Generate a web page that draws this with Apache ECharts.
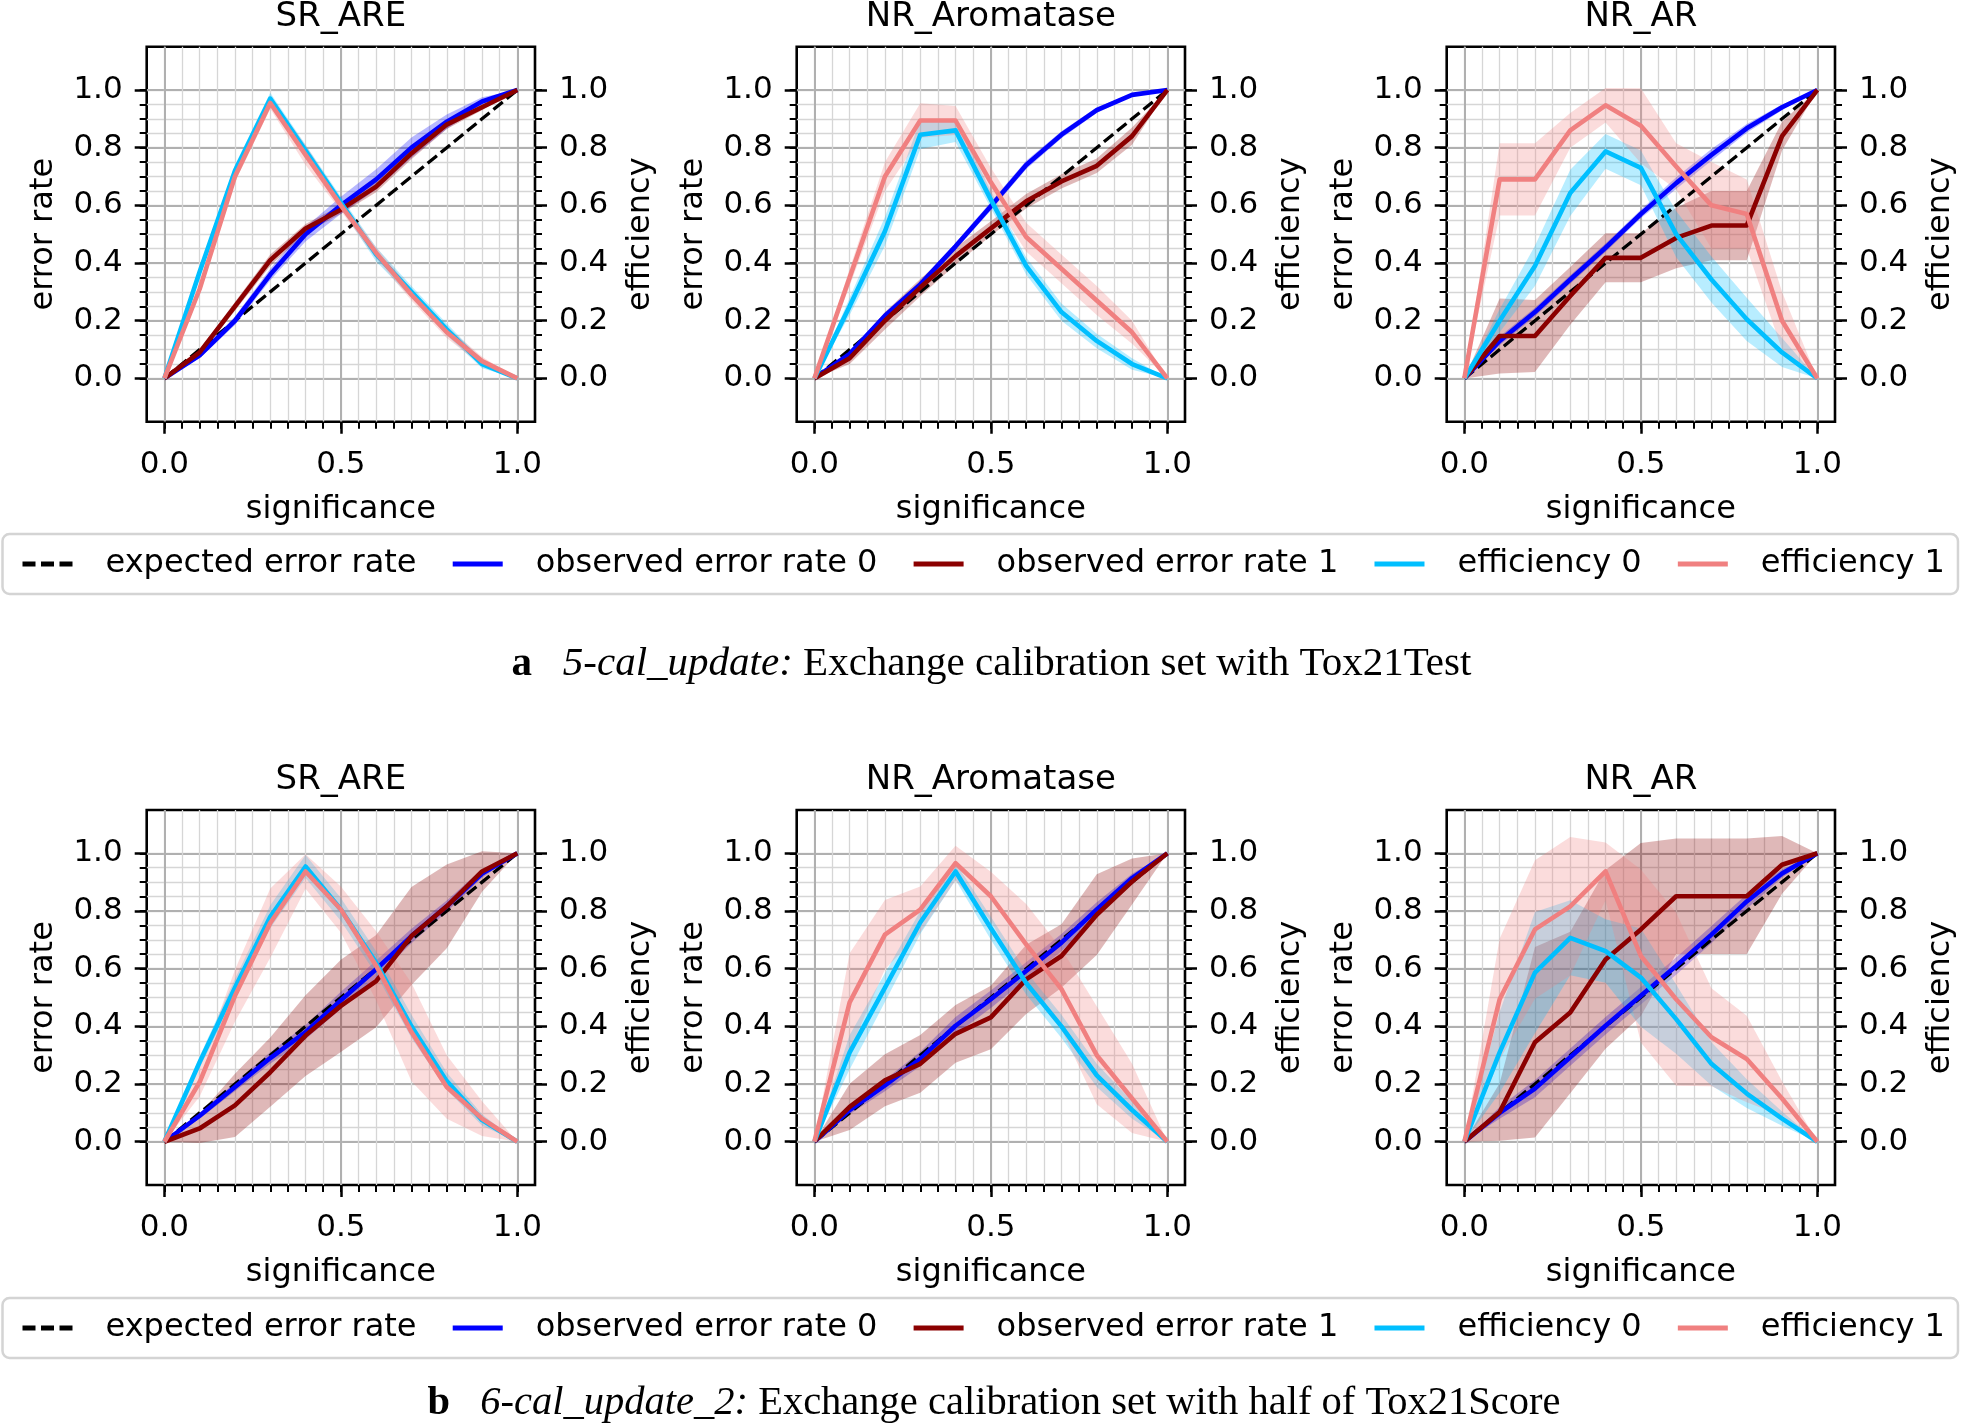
<!DOCTYPE html>
<html><head><meta charset="utf-8">
<script src="https://cdn.jsdelivr.net/npm/echarts@6/dist/echarts.min.js"></script>
<style>html,body{margin:0;padding:0;background:#fff}#c{width:1961px;height:1428px}</style>
</head><body><div id="c"></div>
<script>
// ---------- data ----------
const significance = [0, 0.1, 0.2, 0.3, 0.4, 0.5, 0.6, 0.7, 0.8, 0.9, 1.0];
const expectedErrorRate = [0, 0.1, 0.2, 0.3, 0.4, 0.5, 0.6, 0.7, 0.8, 0.9, 1.0];
const xMajorTicks = [0, 0.5, 1.0];
const yMajorTicks = [0, 0.2, 0.4, 0.6, 0.8, 1.0];
const minorTicks = [0, 0.05, 0.1, 0.15, 0.2, 0.25, 0.3, 0.35, 0.4, 0.45, 0.5, 0.55, 0.6, 0.65, 0.7, 0.75, 0.8, 0.85, 0.9, 0.95, 1.0];
const panelTitles = ['SR_ARE', 'NR_Aromatase', 'NR_AR'];
const legendNames = ['expected error rate', 'observed error rate 0', 'observed error rate 1', 'efficiency 0', 'efficiency 1'];
const captionA = '{b|a}   {i|5-cal_update:} Exchange calibration set with Tox21Test';
const captionB = '{b|b}   {i|6-cal_update_2:} Exchange calibration set with half of Tox21Score';

// (a) SR_ARE
const aSR_obs0   = [0, 0.08, 0.20, 0.36, 0.50, 0.60, 0.69, 0.80, 0.89, 0.96, 1.0];
const aSR_obs0Sd = [0, 0.01, 0.015, 0.02, 0.025, 0.03, 0.035, 0.035, 0.025, 0.015, 0];
const aSR_obs1   = [0, 0.09, 0.25, 0.41, 0.52, 0.585, 0.665, 0.78, 0.88, 0.94, 1.0];
const aSR_obs1Sd = [0, 0.01, 0.015, 0.02, 0.015, 0.015, 0.02, 0.02, 0.015, 0.01, 0];
const aSR_eff0   = [0, 0.37, 0.72, 0.97, 0.79, 0.61, 0.43, 0.30, 0.17, 0.05, 0];
const aSR_eff0Sd = [0, 0.015, 0.02, 0.02, 0.02, 0.02, 0.025, 0.02, 0.02, 0.015, 0];
const aSR_eff1   = [0, 0.31, 0.70, 0.955, 0.775, 0.60, 0.435, 0.29, 0.16, 0.06, 0];
const aSR_eff1Sd = [0, 0.02, 0.02, 0.02, 0.035, 0.02, 0.02, 0.02, 0.02, 0.015, 0];
// (a) NR_Aromatase
const aAro_obs0   = [0, 0.085, 0.217, 0.326, 0.458, 0.597, 0.74, 0.845, 0.93, 0.983, 1.0];
const aAro_obs0Sd = [0, 0.01, 0.01, 0.012, 0.012, 0.015, 0.015, 0.012, 0.01, 0.005, 0];
const aAro_obs1   = [0, 0.07, 0.2, 0.315, 0.424, 0.52, 0.614, 0.683, 0.737, 0.84, 1.0];
const aAro_obs1Sd = [0, 0.02, 0.03, 0.03, 0.03, 0.025, 0.025, 0.025, 0.025, 0.03, 0];
const aAro_eff0   = [0, 0.25, 0.51, 0.845, 0.86, 0.62, 0.39, 0.23, 0.13, 0.05, 0];
const aAro_eff0Sd = [0, 0.03, 0.05, 0.05, 0.04, 0.03, 0.03, 0.03, 0.025, 0.02, 0];
const aAro_eff1   = [0, 0.35, 0.70, 0.894, 0.894, 0.68, 0.49, 0.38, 0.27, 0.16, 0];
const aAro_eff1Sd = [0, 0.03, 0.05, 0.06, 0.05, 0.05, 0.05, 0.05, 0.05, 0.04, 0];
// (a) NR_AR
const aAR_obs0   = [0, 0.13, 0.23, 0.343, 0.453, 0.57, 0.677, 0.775, 0.867, 0.94, 1.0];
const aAR_obs0Sd = [0, 0.015, 0.015, 0.015, 0.015, 0.015, 0.02, 0.02, 0.015, 0.01, 0];
const aAR_obs1   = [0, 0.147, 0.147, 0.286, 0.418, 0.418, 0.487, 0.53, 0.53, 0.84, 1.0];
const aAR_obs1Sd = [0, 0.13, 0.125, 0.1, 0.085, 0.085, 0.105, 0.12, 0.12, 0.05, 0];
const aAR_eff0   = [0, 0.2, 0.39, 0.643, 0.787, 0.73, 0.5, 0.343, 0.205, 0.09, 0];
const aAR_eff0Sd = [0, 0.04, 0.07, 0.08, 0.06, 0.06, 0.08, 0.08, 0.075, 0.05, 0];
const aAR_eff1   = [0, 0.69, 0.69, 0.86, 0.947, 0.876, 0.735, 0.6, 0.57, 0.2, 0];
const aAR_eff1Sd = [0, 0.125, 0.125, 0.06, 0.06, 0.13, 0.08, 0.15, 0.12, 0.1, 0];
// (b) SR_ARE
const bSR_obs0   = [0, 0.09, 0.19, 0.29, 0.38, 0.49, 0.598, 0.713, 0.816, 0.93, 1.0];
const bSR_obs0Sd = [0, 0.01, 0.015, 0.02, 0.025, 0.03, 0.03, 0.025, 0.02, 0.015, 0];
const bSR_obs1   = [0, 0.046, 0.126, 0.241, 0.368, 0.471, 0.557, 0.713, 0.816, 0.937, 1.0];
const bSR_obs1Sd = [0, 0.05, 0.11, 0.12, 0.14, 0.16, 0.16, 0.17, 0.145, 0.07, 0];
const bSR_eff0   = [0, 0.276, 0.534, 0.78, 0.954, 0.805, 0.62, 0.4, 0.21, 0.075, 0];
const bSR_eff0Sd = [0, 0.02, 0.03, 0.04, 0.04, 0.04, 0.04, 0.04, 0.03, 0.02, 0];
const bSR_eff1   = [0, 0.207, 0.506, 0.758, 0.937, 0.805, 0.61, 0.38, 0.19, 0.08, 0];
const bSR_eff1Sd = [0, 0.05, 0.09, 0.12, 0.06, 0.08, 0.12, 0.17, 0.11, 0.06, 0];
// (b) NR_Aromatase
const bAro_obs0   = [0, 0.11, 0.195, 0.287, 0.402, 0.494, 0.592, 0.69, 0.805, 0.914, 1.0];
const bAro_obs0Sd = [0, 0.015, 0.02, 0.025, 0.03, 0.03, 0.03, 0.03, 0.025, 0.015, 0];
const bAro_obs1   = [0, 0.121, 0.213, 0.27, 0.374, 0.431, 0.563, 0.644, 0.787, 0.902, 1.0];
const bAro_obs1Sd = [0, 0.08, 0.09, 0.1, 0.1, 0.11, 0.12, 0.11, 0.14, 0.08, 0];
const bAro_eff0   = [0, 0.31, 0.534, 0.76, 0.937, 0.74, 0.55, 0.4, 0.23, 0.11, 0];
const bAro_eff0Sd = [0, 0.06, 0.05, 0.04, 0.03, 0.04, 0.04, 0.04, 0.04, 0.03, 0];
const bAro_eff1   = [0, 0.483, 0.718, 0.805, 0.966, 0.851, 0.684, 0.529, 0.3, 0.15, 0];
const bAro_eff1Sd = [0, 0.17, 0.12, 0.08, 0.06, 0.085, 0.14, 0.14, 0.17, 0.12, 0];
// (b) NR_AR
const bAR_obs0   = [0, 0.1, 0.184, 0.293, 0.402, 0.506, 0.609, 0.718, 0.833, 0.93, 1.0];
const bAR_obs0Sd = [0, 0.02, 0.03, 0.03, 0.03, 0.03, 0.03, 0.03, 0.025, 0.015, 0];
const bAR_obs1   = [0, 0.103, 0.345, 0.448, 0.632, 0.736, 0.851, 0.851, 0.851, 0.96, 1.0];
const bAR_obs1Sd = [0, 0.1, 0.33, 0.28, 0.31, 0.3, 0.2, 0.2, 0.2, 0.1, 0];
const bAR_eff0   = [0, 0.31, 0.586, 0.707, 0.661, 0.569, 0.425, 0.27, 0.167, 0.08, 0];
const bAR_eff0Sd = [0, 0.14, 0.21, 0.13, 0.11, 0.17, 0.12, 0.075, 0.05, 0.025, 0];
const bAR_eff1   = [0, 0.494, 0.736, 0.816, 0.937, 0.644, 0.494, 0.362, 0.287, 0.15, 0];
const bAR_eff1Sd = [0, 0.21, 0.24, 0.24, 0.1, 0.3, 0.3, 0.17, 0.15, 0.06, 0];

// ---------- layout / style ----------
const colLeft = [146.7, 796.7, 1446.7];
const rowTop = [46.7, 810];
const plotW = 388.3, plotH = 375;
const X_MIN = -0.05, X_MAX = 1.05, Y_MIN = -0.15, Y_MAX = 1.15;
const COLORS = {expected: '#000000', obs0: '#0000ff', obs1: '#8b0000', eff0: '#00bfff', eff1: '#f08080'};
const BANDS = {obs0: 'rgba(0,0,255,0.28)', obs1: 'rgba(139,0,0,0.28)', eff0: 'rgba(0,191,255,0.28)', eff1: 'rgba(240,128,128,0.28)'};
const MAJOR_GRID = '#b0b0b0', MINOR_GRID = '#d6d6d6';
const FONT = 'DejaVu Sans';

const panels = [
  {row: 0, col: 0, obs0: aSR_obs0, obs0Sd: aSR_obs0Sd, obs1: aSR_obs1, obs1Sd: aSR_obs1Sd, eff0: aSR_eff0, eff0Sd: aSR_eff0Sd, eff1: aSR_eff1, eff1Sd: aSR_eff1Sd},
  {row: 0, col: 1, obs0: aAro_obs0, obs0Sd: aAro_obs0Sd, obs1: aAro_obs1, obs1Sd: aAro_obs1Sd, eff0: aAro_eff0, eff0Sd: aAro_eff0Sd, eff1: aAro_eff1, eff1Sd: aAro_eff1Sd},
  {row: 0, col: 2, obs0: aAR_obs0, obs0Sd: aAR_obs0Sd, obs1: aAR_obs1, obs1Sd: aAR_obs1Sd, eff0: aAR_eff0, eff0Sd: aAR_eff0Sd, eff1: aAR_eff1, eff1Sd: aAR_eff1Sd},
  {row: 1, col: 0, obs0: bSR_obs0, obs0Sd: bSR_obs0Sd, obs1: bSR_obs1, obs1Sd: bSR_obs1Sd, eff0: bSR_eff0, eff0Sd: bSR_eff0Sd, eff1: bSR_eff1, eff1Sd: bSR_eff1Sd},
  {row: 1, col: 1, obs0: bAro_obs0, obs0Sd: bAro_obs0Sd, obs1: bAro_obs1, obs1Sd: bAro_obs1Sd, eff0: bAro_eff0, eff0Sd: bAro_eff0Sd, eff1: bAro_eff1, eff1Sd: bAro_eff1Sd},
  {row: 1, col: 2, obs0: bAR_obs0, obs0Sd: bAR_obs0Sd, obs1: bAR_obs1, obs1Sd: bAR_obs1Sd, eff0: bAR_eff0, eff0Sd: bAR_eff0Sd, eff1: bAR_eff1, eff1Sd: bAR_eff1Sd}
];

const fmt = v => Number(v).toFixed(1);
const grids = [], xAxes = [], yAxes = [], series = [], graphics = [];

panels.forEach((p, i) => {
  grids.push({left: colLeft[p.col], top: rowTop[p.row], width: plotW, height: plotH,
    show: true, borderColor: '#000', borderWidth: 2.6, backgroundColor: 'rgba(0,0,0,0)'});
  const xb = {gridIndex: i, type: 'value', min: X_MIN, max: X_MAX, position: 'bottom', axisLine: {show: false, onZero: false}};
  xAxes.push(Object.assign({}, xb, {
    axisTick: {show: true, customValues: minorTicks, length: 7, lineStyle: {color: '#000', width: 2}},
    axisLabel: {show: false}, splitLine: {show: true, lineStyle: {color: MINOR_GRID, width: 1.3}}}));
  xAxes.push(Object.assign({}, xb, {
    axisTick: {show: true, customValues: xMajorTicks, length: 12, lineStyle: {color: '#000', width: 2.5}},
    axisLabel: {show: true, customValues: xMajorTicks, formatter: fmt, fontSize: 31, color: '#000', margin: 27.5, fontFamily: FONT},
    splitLine: {show: true, lineStyle: {color: MAJOR_GRID, width: 2}},
    name: 'significance', nameLocation: 'middle', nameGap: 72, nameTextStyle: {fontSize: 32, color: '#000', fontFamily: FONT}}));
  ['left', 'right'].forEach(pos => {
    const yb = {gridIndex: i, type: 'value', min: Y_MIN, max: Y_MAX, position: pos, axisLine: {show: false, onZero: false}};
    yAxes.push(Object.assign({}, yb, {
      axisTick: {show: true, customValues: minorTicks, length: 7, lineStyle: {color: '#000', width: 2}},
      axisLabel: {show: false},
      splitLine: {show: pos === 'left', lineStyle: {color: MINOR_GRID, width: 1.3}}}));
    yAxes.push(Object.assign({}, yb, {
      axisTick: {show: true, customValues: yMajorTicks, length: 12, lineStyle: {color: '#000', width: 2.5}},
      axisLabel: {show: true, customValues: yMajorTicks, formatter: fmt, fontSize: 31, color: '#000', margin: 24, fontFamily: FONT, padding: [7, 0, 0, 0]},
      splitLine: {show: pos === 'left', lineStyle: {color: MAJOR_GRID, width: 2}},
      name: pos === 'left' ? 'error rate' : 'efficiency', nameLocation: 'middle', nameRotate: 90, nameGap: pos === 'left' ? 87 : 89.5,
      nameTextStyle: {fontSize: 32, color: '#000', fontFamily: FONT}}));
  });
  const xIdx = 2 * i + 1, yErr = 4 * i + 1, yEff = 4 * i + 3;

  const band = (mean, sd, fill, yIdx) => ({
    type: 'custom', name: 'band', xAxisIndex: xIdx, yAxisIndex: yIdx, z: 1, silent: true, animation: false,
    data: significance.map((x, k) => [x, mean[k] - sd[k], mean[k] + sd[k]]),
    encode: {x: 0, y: [1, 2]},
    renderItem: (params, api) => {
      if (params.dataIndexInside !== 0) return null;
      const n = params.dataInsideLength, lo = [], hi = [];
      for (let k = 0; k < n; k++) {
        const x = api.value(0, k);
        lo.push(api.coord([x, api.value(1, k)]));
        hi.push(api.coord([x, api.value(2, k)]));
      }
      return {type: 'polygon', shape: {points: lo.concat(hi.reverse())}, style: {fill: fill}};
    }
  });
  series.push(band(p.obs0, p.obs0Sd, BANDS.obs0, yErr));
  series.push(band(p.obs1, p.obs1Sd, BANDS.obs1, yErr));
  series.push(band(p.eff0, p.eff0Sd, BANDS.eff0, yEff));
  series.push(band(p.eff1, p.eff1Sd, BANDS.eff1, yEff));

  const line = (name, arr, color, yIdx, ls) => ({
    type: 'line', name: name, xAxisIndex: xIdx, yAxisIndex: yIdx, z: 3, silent: true, animation: false,
    data: significance.map((x, k) => [x, arr[k]]), symbol: 'none',
    itemStyle: {color: color},
    lineStyle: Object.assign({color: color, width: 4.6, join: 'round'}, ls || {})
  });
  series.push(line(legendNames[0], expectedErrorRate, COLORS.expected, yErr, {width: 3.3, type: [12, 5]}));
  series.push(line(legendNames[1], p.obs0, COLORS.obs0, yErr));
  series.push(line(legendNames[2], p.obs1, COLORS.obs1, yErr));
  series.push(line(legendNames[3], p.eff0, COLORS.eff0, yEff));
  series.push(line(legendNames[4], p.eff1, COLORS.eff1, yEff));

  graphics.push({type: 'text', x: colLeft[p.col] + plotW / 2, y: rowTop[p.row] - 30,
    style: {text: panelTitles[p.col], fontSize: 34, fontFamily: FONT, fill: '#000', align: 'center', verticalAlign: 'middle'}});
});

const serifRich = {
  b: {fontWeight: 'bold', fontSize: 41, fontFamily: 'Liberation Serif', fill: '#000'},
  i: {fontStyle: 'italic', fontSize: 41, fontFamily: 'Liberation Serif', fill: '#000'}
};
graphics.push({type: 'text', x: 991.5, y: 664.5, style: {text: captionA, fontSize: 41, fontFamily: 'Liberation Serif', fill: '#000', align: 'center', verticalAlign: 'middle', rich: serifRich}});
const serifRichB = {
  b: {fontWeight: 'bold', fontSize: 40.5, fontFamily: 'Liberation Serif', fill: '#000'},
  i: {fontStyle: 'italic', fontSize: 40.5, fontFamily: 'Liberation Serif', fill: '#000'}
};
graphics.push({type: 'text', x: 994, y: 1403.5, style: {text: captionB, fontSize: 40.5, fontFamily: 'Liberation Serif', fill: '#000', align: 'center', verticalAlign: 'middle', rich: serifRichB}});

const dashIcon = 'path://M0,0H13V5H0Z M18.5,0H31.5V5H18.5Z M37,0H50V5H37Z';
const legendData = legendNames.map((n, k) => ({name: n, icon: k === 0 ? dashIcon : 'rect'}));
const legendBase = {
  orient: 'horizontal', left: 2.5, width: 1945, itemWidth: 50, itemHeight: 5, itemGap: 36.2,
  padding: [14, 13, 14, 20], borderColor: '#d4d4d4', borderWidth: 2.5, borderRadius: 7,
  backgroundColor: '#fff', selectedMode: false, symbolKeepAspect: false,
  itemStyle: {borderWidth: 0},
  textStyle: {fontSize: 32, color: '#000', fontFamily: FONT, padding: [0, 0, 0, 28]},
  data: legendData
};

const chart = echarts.init(document.getElementById('c'), null, {renderer: 'canvas'});
chart.setOption({
  animation: false,
  backgroundColor: '#fff',
  textStyle: {fontFamily: FONT},
  grid: grids, xAxis: xAxes, yAxis: yAxes, series: series,
  legend: [Object.assign({}, legendBase, {top: 534}), Object.assign({}, legendBase, {top: 1298})],
  graphic: graphics
});
</script></body></html>
